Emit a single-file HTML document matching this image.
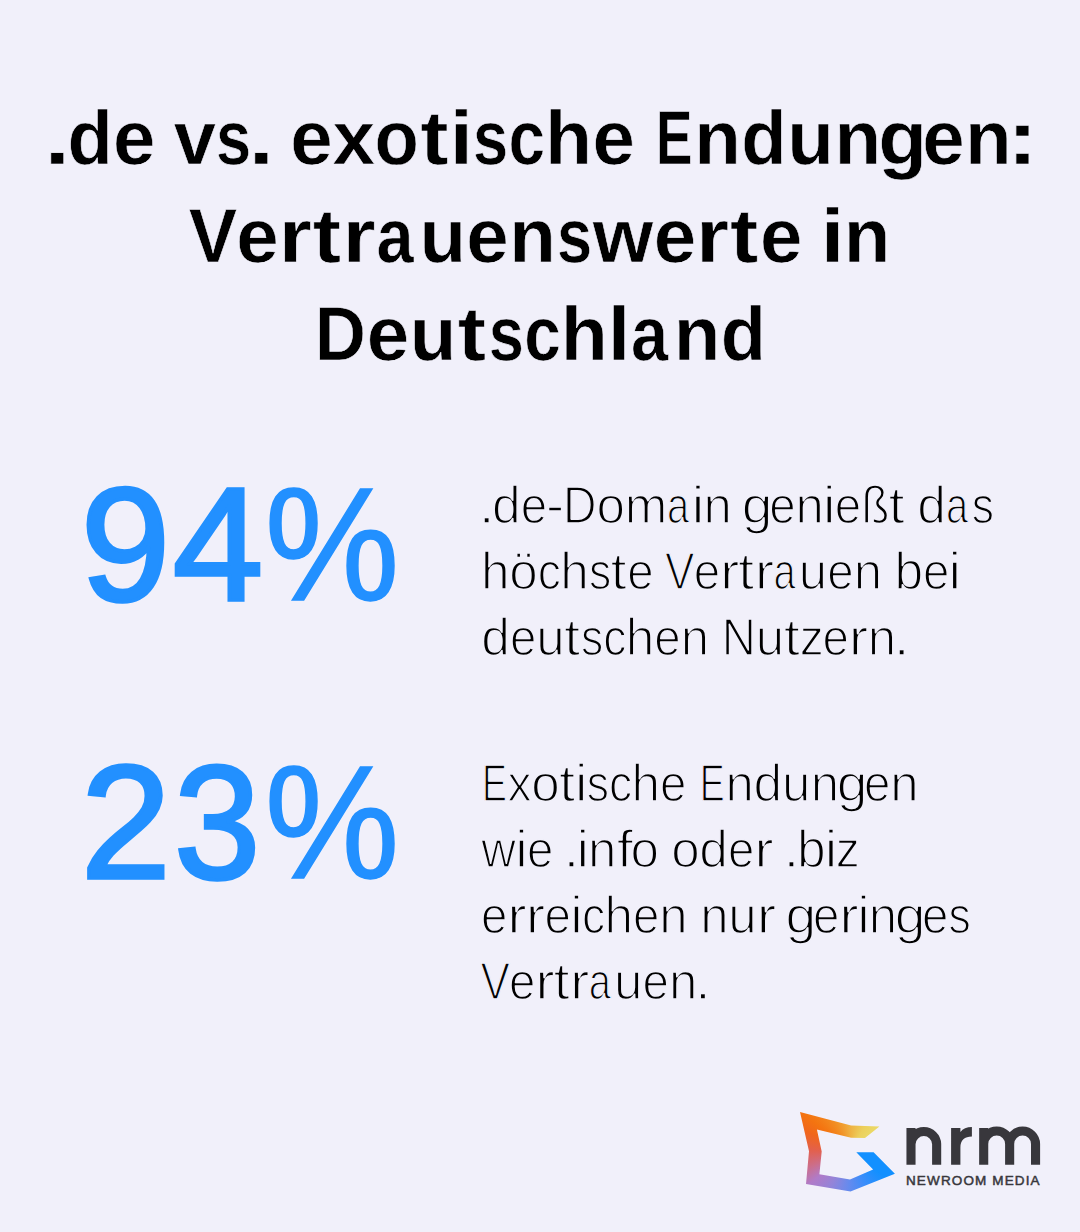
<!DOCTYPE html>
<html><head><meta charset="utf-8"><style>
html,body{margin:0;padding:0;width:1080px;height:1232px;overflow:hidden;background:#F1F0FA;}
svg{position:absolute;left:0;top:0;}
svg text{font-family:"Liberation Sans",sans-serif;}
#logo{position:absolute;left:790px;top:1100px;width:120px;height:100px;
background:conic-gradient(from 0deg at 60px 52px, #EFB040 0deg, #ECD05C 30deg, #EADB6A 55deg, #1290FF 62deg, #1290FF 125deg, #3A8DFA 155deg, #6A8AEC 185deg, #9484D8 210deg, #B07BC8 232deg, #CC6E8A 250deg, #E2604E 272deg, #F0661C 295deg, #F47410 310deg, #F28E22 333deg, #EFB040 360deg);
clip-path:polygon(10.0px 11.9px, 61.1px 25.6px, 89.4px 26.4px, 75.0px 38.1px, 61.1px 37.8px, 26.9px 29.4px, 31.7px 51.5px, 29.4px 74.3px, 60.0px 79.4px, 83.1px 69.6px, 66.3px 52.2px, 83.6px 52.2px, 104.9px 73.8px, 60.5px 91.4px, 16.0px 84.0px, 19.0px 51.2px);}
</style></head><body>
<svg width="1080" height="1232" viewBox="0 0 1080 1232">
<g style="font-size:75.90px;font-weight:700;fill:#000;stroke:#F1F0FA;stroke-width:0.6px;stroke-linejoin:miter;"><text transform="matrix(1.2170 0 0 1 44.49 0)" y="164.00">.</text><text transform="matrix(0.9759 0 0 1 67.45 0)" y="164.00">d</text><text transform="matrix(1.0044 0 0 1 113.06 0)" y="164.00">e</text><text x="155.6" y="164.00"> </text><text transform="matrix(0.9994 0 0 1 173.75 0)" y="164.00">v</text><text transform="matrix(0.8320 0 0 1 216.07 0)" y="164.00">s</text><text transform="matrix(1.2170 0 0 1 248.58 0)" y="164.00">.</text><text x="271.6" y="164.00"> </text><text transform="matrix(1.0044 0 0 1 290.29 0)" y="164.00">e</text><text transform="matrix(1.0095 0 0 1 332.40 0)" y="164.00">x</text><text transform="matrix(0.9567 0 0 1 374.61 0)" y="164.00">o</text><text transform="matrix(1.1200 0 0 1 420.21 0)" y="164.00">t</text><text transform="matrix(1.1200 0 0 1 449.56 0)" y="164.00">i</text><text transform="matrix(0.8320 0 0 1 473.06 0)" y="164.00">s</text><text transform="matrix(0.8658 0 0 1 508.50 0)" y="164.00">c</text><text transform="matrix(1.0147 0 0 1 545.05 0)" y="164.00">h</text><text transform="matrix(1.0044 0 0 1 592.38 0)" y="164.00">e</text><text x="635.0" y="164.00"> </text><text transform="matrix(0.7200 0 0 1 655.96 0)" y="164.00">E</text><text transform="matrix(1.0063 0 0 1 694.28 0)" y="164.00">n</text><text transform="matrix(0.9759 0 0 1 741.22 0)" y="164.00">d</text><text transform="matrix(1.0063 0 0 1 787.25 0)" y="164.00">u</text><text transform="matrix(1.0063 0 0 1 834.49 0)" y="164.00">n</text><text transform="matrix(1.0545 0 0 1 878.13 0)" y="164.00">g</text><text transform="matrix(1.0044 0 0 1 922.15 0)" y="164.00">e</text><text transform="matrix(1.0063 0 0 1 965.02 0)" y="164.00">n</text><text transform="matrix(1.2215 0 0 1 1006.88 0)" y="164.00">:</text></g>
<g style="font-size:75.90px;font-weight:700;fill:#000;stroke:#F1F0FA;stroke-width:0.6px;stroke-linejoin:miter;"><text transform="matrix(0.9552 0 0 1 188.83 0)" y="262.00">V</text><text transform="matrix(1.0044 0 0 1 236.36 0)" y="262.00">e</text><text transform="matrix(1.1200 0 0 1 278.65 0)" y="262.00">r</text><text transform="matrix(1.1200 0 0 1 312.78 0)" y="262.00">t</text><text transform="matrix(1.1200 0 0 1 342.60 0)" y="262.00">r</text><text transform="matrix(0.8791 0 0 1 376.40 0)" y="262.00">a</text><text transform="matrix(1.0063 0 0 1 419.45 0)" y="262.00">u</text><text transform="matrix(1.0044 0 0 1 466.35 0)" y="262.00">e</text><text transform="matrix(1.0063 0 0 1 509.23 0)" y="262.00">n</text><text transform="matrix(0.8320 0 0 1 557.02 0)" y="262.00">s</text><text transform="matrix(1.0241 0 0 1 592.67 0)" y="262.00">w</text><text transform="matrix(1.0044 0 0 1 653.63 0)" y="262.00">e</text><text transform="matrix(1.1200 0 0 1 695.92 0)" y="262.00">r</text><text transform="matrix(1.1200 0 0 1 730.05 0)" y="262.00">t</text><text transform="matrix(1.0044 0 0 1 760.12 0)" y="262.00">e</text><text x="802.7" y="262.00"> </text><text transform="matrix(1.1200 0 0 1 820.64 0)" y="262.00">i</text><text transform="matrix(1.0063 0 0 1 843.67 0)" y="262.00">n</text></g>
<g style="font-size:75.90px;font-weight:700;fill:#000;stroke:#F1F0FA;stroke-width:0.6px;stroke-linejoin:miter;"><text transform="matrix(0.9281 0 0 1 315.05 0)" y="360.00">D</text><text transform="matrix(1.0044 0 0 1 366.82 0)" y="360.00">e</text><text transform="matrix(1.0063 0 0 1 409.78 0)" y="360.00">u</text><text transform="matrix(1.1200 0 0 1 457.86 0)" y="360.00">t</text><text transform="matrix(0.8320 0 0 1 488.74 0)" y="360.00">s</text><text transform="matrix(0.8658 0 0 1 524.18 0)" y="360.00">c</text><text transform="matrix(1.0147 0 0 1 560.73 0)" y="360.00">h</text><text transform="matrix(1.0926 0 0 1 607.62 0)" y="360.00">l</text><text transform="matrix(0.8791 0 0 1 630.89 0)" y="360.00">a</text><text transform="matrix(1.0063 0 0 1 673.86 0)" y="360.00">n</text><text transform="matrix(0.9759 0 0 1 720.79 0)" y="360.00">d</text></g>
<g style="font-size:161.60px;font-weight:400;fill:#2290FF;stroke:#2290FF;stroke-width:3.5px;stroke-linejoin:miter;"><text transform="matrix(0.9947 0 0 1 80.84 0)" y="600.00">9</text><text transform="matrix(1.0072 0 0 1 172.63 0)" y="600.00">4</text><text transform="matrix(0.9375 0 0 1 264.75 0)" y="600.00" style="stroke-width:1.5px">%</text></g>
<g style="font-size:161.60px;font-weight:400;fill:#2290FF;stroke:#2290FF;stroke-width:3.5px;stroke-linejoin:miter;"><text transform="matrix(1.0029 0 0 1 80.82 0)" y="878.00">2</text><text transform="matrix(0.9605 0 0 1 173.96 0)" y="878.00">3</text><text transform="matrix(0.9375 0 0 1 264.78 0)" y="878.00" style="stroke-width:1.5px">%</text></g>
<g style="font-size:52.10px;font-weight:400;fill:#000;stroke:#F1F0FA;stroke-width:1.6px;stroke-linejoin:round;"><text transform="matrix(1.1298 0 0 1 478.41 0)" y="522.90">.</text><text transform="matrix(0.9888 0 0 1 492.09 0)" y="522.90">d</text><text transform="matrix(0.9120 0 0 1 520.87 0)" y="522.90">e</text><text transform="matrix(1.0454 0 0 1 545.88 0)" y="522.90">-</text><text transform="matrix(0.8908 0 0 1 562.97 0)" y="522.90">D</text><text transform="matrix(0.9823 0 0 1 596.39 0)" y="522.90">o</text><text transform="matrix(0.9810 0 0 1 624.74 0)" y="522.90">m</text><text transform="matrix(0.7647 0 0 1 667.05 0)" y="522.90">a</text><text transform="matrix(1.1200 0 0 1 691.53 0)" y="522.90">i</text><text transform="matrix(0.9794 0 0 1 703.43 0)" y="522.90">n</text><text x="731.7" y="522.90"> </text><text transform="matrix(1.0618 0 0 1 741.86 0)" y="522.90">g</text><text transform="matrix(0.9120 0 0 1 769.14 0)" y="522.90">e</text><text transform="matrix(0.9794 0 0 1 795.54 0)" y="522.90">n</text><text transform="matrix(1.1200 0 0 1 822.82 0)" y="522.90">i</text><text transform="matrix(0.9120 0 0 1 834.70 0)" y="522.90">e</text><text transform="matrix(0.8762 0 0 1 861.38 0)" y="522.90">ß</text><text transform="matrix(1.1200 0 0 1 888.41 0)" y="522.90">t</text><text x="905.1" y="522.90"> </text><text transform="matrix(0.9888 0 0 1 917.37 0)" y="522.90">d</text><text transform="matrix(0.7647 0 0 1 946.07 0)" y="522.90">a</text><text transform="matrix(0.8546 0 0 1 971.74 0)" y="522.90">s</text></g>
<g style="font-size:52.10px;font-weight:400;fill:#000;stroke:#F1F0FA;stroke-width:1.6px;stroke-linejoin:round;"><text transform="matrix(0.9867 0 0 1 480.95 0)" y="588.90">h</text><text transform="matrix(0.9823 0 0 1 509.25 0)" y="588.90">ö</text><text transform="matrix(0.8886 0 0 1 537.66 0)" y="588.90">c</text><text transform="matrix(0.9867 0 0 1 560.24 0)" y="588.90">h</text><text transform="matrix(0.8546 0 0 1 588.90 0)" y="588.90">s</text><text transform="matrix(1.1200 0 0 1 610.45 0)" y="588.90">t</text><text transform="matrix(0.9120 0 0 1 627.14 0)" y="588.90">e</text><text x="653.5" y="588.90"> </text><text transform="matrix(0.8474 0 0 1 665.09 0)" y="588.90">V</text><text transform="matrix(0.9120 0 0 1 693.68 0)" y="588.90">e</text><text transform="matrix(1.1200 0 0 1 719.95 0)" y="588.90">r</text><text transform="matrix(1.1200 0 0 1 738.09 0)" y="588.90">t</text><text transform="matrix(1.1200 0 0 1 754.68 0)" y="588.90">r</text><text transform="matrix(0.7647 0 0 1 773.39 0)" y="588.90">a</text><text transform="matrix(0.9805 0 0 1 798.67 0)" y="588.90">u</text><text transform="matrix(0.9120 0 0 1 827.23 0)" y="588.90">e</text><text transform="matrix(0.9794 0 0 1 853.63 0)" y="588.90">n</text><text x="881.9" y="588.90"> </text><text transform="matrix(0.9899 0 0 1 894.46 0)" y="588.90">b</text><text transform="matrix(0.9120 0 0 1 922.97 0)" y="588.90">e</text><text transform="matrix(1.1200 0 0 1 948.32 0)" y="588.90">i</text></g>
<g style="font-size:52.10px;font-weight:400;fill:#000;stroke:#F1F0FA;stroke-width:1.6px;stroke-linejoin:round;"><text transform="matrix(0.9888 0 0 1 481.24 0)" y="654.90">d</text><text transform="matrix(0.9120 0 0 1 510.02 0)" y="654.90">e</text><text transform="matrix(0.9805 0 0 1 536.15 0)" y="654.90">u</text><text transform="matrix(1.1200 0 0 1 564.08 0)" y="654.90">t</text><text transform="matrix(0.8546 0 0 1 580.94 0)" y="654.90">s</text><text transform="matrix(0.8886 0 0 1 603.20 0)" y="654.90">c</text><text transform="matrix(0.9867 0 0 1 625.78 0)" y="654.90">h</text><text transform="matrix(0.9120 0 0 1 654.27 0)" y="654.90">e</text><text transform="matrix(0.9794 0 0 1 680.67 0)" y="654.90">n</text><text x="709.0" y="654.90"> </text><text transform="matrix(0.9067 0 0 1 721.65 0)" y="654.90">N</text><text transform="matrix(0.9805 0 0 1 755.83 0)" y="654.90">u</text><text transform="matrix(1.1200 0 0 1 783.76 0)" y="654.90">t</text><text transform="matrix(0.9224 0 0 1 799.67 0)" y="654.90">z</text><text transform="matrix(0.9120 0 0 1 822.60 0)" y="654.90">e</text><text transform="matrix(1.1200 0 0 1 848.87 0)" y="654.90">r</text><text transform="matrix(0.9794 0 0 1 867.68 0)" y="654.90">n</text><text transform="matrix(1.1298 0 0 1 893.53 0)" y="654.90">.</text></g>
<g style="font-size:52.10px;font-weight:400;fill:#000;stroke:#F1F0FA;stroke-width:1.6px;stroke-linejoin:round;"><text transform="matrix(0.7200 0 0 1 482.08 0)" y="800.90">E</text><text transform="matrix(0.9262 0 0 1 507.46 0)" y="800.90">x</text><text transform="matrix(0.9823 0 0 1 531.36 0)" y="800.90">o</text><text transform="matrix(1.1200 0 0 1 559.05 0)" y="800.90">t</text><text transform="matrix(1.1200 0 0 1 574.72 0)" y="800.90">i</text><text transform="matrix(0.8546 0 0 1 586.77 0)" y="800.90">s</text><text transform="matrix(0.8886 0 0 1 609.03 0)" y="800.90">c</text><text transform="matrix(0.9867 0 0 1 631.61 0)" y="800.90">h</text><text transform="matrix(0.9120 0 0 1 660.10 0)" y="800.90">e</text><text x="686.4" y="800.90"> </text><text transform="matrix(0.7200 0 0 1 699.87 0)" y="800.90">E</text><text transform="matrix(0.9794 0 0 1 725.47 0)" y="800.90">n</text><text transform="matrix(0.9888 0 0 1 753.57 0)" y="800.90">d</text><text transform="matrix(0.9805 0 0 1 782.12 0)" y="800.90">u</text><text transform="matrix(0.9794 0 0 1 810.71 0)" y="800.90">n</text><text transform="matrix(1.0618 0 0 1 836.67 0)" y="800.90">g</text><text transform="matrix(0.9120 0 0 1 863.96 0)" y="800.90">e</text><text transform="matrix(0.9794 0 0 1 890.35 0)" y="800.90">n</text></g>
<g style="font-size:52.10px;font-weight:400;fill:#000;stroke:#F1F0FA;stroke-width:1.6px;stroke-linejoin:round;"><text transform="matrix(0.9199 0 0 1 481.35 0)" y="866.90">w</text><text transform="matrix(1.1200 0 0 1 515.01 0)" y="866.90">i</text><text transform="matrix(0.9120 0 0 1 526.89 0)" y="866.90">e</text><text x="553.2" y="866.90"> </text><text transform="matrix(1.1298 0 0 1 563.27 0)" y="866.90">.</text><text transform="matrix(1.1200 0 0 1 576.14 0)" y="866.90">i</text><text transform="matrix(0.9794 0 0 1 588.04 0)" y="866.90">n</text><text transform="matrix(1.1200 0 0 1 616.64 0)" y="866.90">f</text><text transform="matrix(0.9823 0 0 1 630.58 0)" y="866.90">o</text><text x="658.9" y="866.90"> </text><text transform="matrix(0.9823 0 0 1 671.19 0)" y="866.90">o</text><text transform="matrix(0.9888 0 0 1 699.32 0)" y="866.90">d</text><text transform="matrix(0.9120 0 0 1 728.10 0)" y="866.90">e</text><text transform="matrix(1.1200 0 0 1 754.37 0)" y="866.90">r</text><text x="773.1" y="866.90"> </text><text transform="matrix(1.1298 0 0 1 783.16 0)" y="866.90">.</text><text transform="matrix(0.9899 0 0 1 797.11 0)" y="866.90">b</text><text transform="matrix(1.1200 0 0 1 824.60 0)" y="866.90">i</text><text transform="matrix(0.9224 0 0 1 835.69 0)" y="866.90">z</text></g>
<g style="font-size:52.10px;font-weight:400;fill:#000;stroke:#F1F0FA;stroke-width:1.6px;stroke-linejoin:round;"><text transform="matrix(0.9120 0 0 1 480.88 0)" y="932.90">e</text><text transform="matrix(1.1200 0 0 1 507.15 0)" y="932.90">r</text><text transform="matrix(1.1200 0 0 1 525.83 0)" y="932.90">r</text><text transform="matrix(0.9120 0 0 1 544.61 0)" y="932.90">e</text><text transform="matrix(1.1200 0 0 1 569.95 0)" y="932.90">i</text><text transform="matrix(0.8886 0 0 1 581.90 0)" y="932.90">c</text><text transform="matrix(0.9867 0 0 1 604.48 0)" y="932.90">h</text><text transform="matrix(0.9120 0 0 1 632.97 0)" y="932.90">e</text><text transform="matrix(0.9794 0 0 1 659.36 0)" y="932.90">n</text><text x="687.7" y="932.90"> </text><text transform="matrix(0.9794 0 0 1 700.17 0)" y="932.90">n</text><text transform="matrix(0.9805 0 0 1 728.24 0)" y="932.90">u</text><text transform="matrix(1.1200 0 0 1 756.71 0)" y="932.90">r</text><text x="775.5" y="932.90"> </text><text transform="matrix(1.0618 0 0 1 785.61 0)" y="932.90">g</text><text transform="matrix(0.9120 0 0 1 812.90 0)" y="932.90">e</text><text transform="matrix(1.1200 0 0 1 839.16 0)" y="932.90">r</text><text transform="matrix(1.1200 0 0 1 856.92 0)" y="932.90">i</text><text transform="matrix(0.9794 0 0 1 868.82 0)" y="932.90">n</text><text transform="matrix(1.0618 0 0 1 894.78 0)" y="932.90">g</text><text transform="matrix(0.9120 0 0 1 922.07 0)" y="932.90">e</text><text transform="matrix(0.8546 0 0 1 948.60 0)" y="932.90">s</text></g>
<g style="font-size:52.10px;font-weight:400;fill:#000;stroke:#F1F0FA;stroke-width:1.6px;stroke-linejoin:round;"><text transform="matrix(0.8474 0 0 1 480.48 0)" y="998.90">V</text><text transform="matrix(0.9120 0 0 1 509.07 0)" y="998.90">e</text><text transform="matrix(1.1200 0 0 1 535.34 0)" y="998.90">r</text><text transform="matrix(1.1200 0 0 1 553.48 0)" y="998.90">t</text><text transform="matrix(1.1200 0 0 1 570.07 0)" y="998.90">r</text><text transform="matrix(0.7647 0 0 1 588.78 0)" y="998.90">a</text><text transform="matrix(0.9805 0 0 1 614.06 0)" y="998.90">u</text><text transform="matrix(0.9120 0 0 1 642.62 0)" y="998.90">e</text><text transform="matrix(0.9794 0 0 1 669.02 0)" y="998.90">n</text><text transform="matrix(1.1298 0 0 1 694.87 0)" y="998.90">.</text></g>
<g fill="none" stroke="#38373C" stroke-width="9.1" stroke-linecap="butt">
<path d="M911,1128 V1164.7 M911,1164.7 V1144 A12.83,12.83 0 0 1 936.65,1144 V1164.7"/>
<path d="M983.7,1128 V1164.7 M983.7,1164.7 V1144 A12.97,12.97 0 0 1 1009.65,1144 V1164.7 M1009.65,1144 A12.95,12.95 0 0 1 1035.55,1144 V1164.7"/>
</g>
<path fill="#38373C" d="M951.1,1164.7 V1128 H960.4 V1132 C962.8,1128.6 966.8,1126.9 971.9,1126.9 V1136.5 C964.6,1136.5 960.4,1140.2 960.4,1147.5 V1164.7 Z"/>
<text x="906" y="1184.9" font-size="13.5" textLength="133.6" lengthAdjust="spacing" style="font-family:'Liberation Sans',sans-serif;font-weight:400;fill:#38373C;stroke:#38373C;stroke-width:0.5px;">NEWROOM MEDIA</text>
</svg>
<div id="logo"></div>
</body></html>
